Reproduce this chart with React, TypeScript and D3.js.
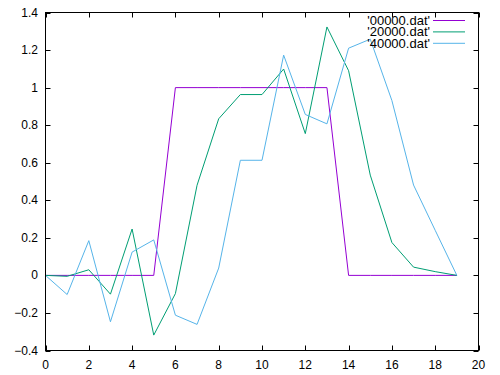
import React from "react";
import * as d3 from "d3";

const xs = d3.range(0, 20);
const s00000 = [0, 0, 0, 0, 0, 0, 1, 1, 1, 1, 1, 1, 1, 1, 0, 0, 0, 0, 0, 0];
const s20000 = [0, -0.005, 0.03, -0.1, 0.247, -0.318, -0.097, 0.48, 0.834, 0.963, 0.963, 1.099, 0.755, 1.323, 1.09, 0.534, 0.175, 0.044, 0.02, 0];
const s40000 = [0, -0.102, 0.185, -0.247, 0.124, 0.189, -0.212, -0.261, 0.039, 0.613, 0.613, 1.173, 0.857, 0.807, 1.21, 1.258, 0.931, 0.481, 0.24, 0];
const seriesNames = ["'00000.dat'", "'20000.dat'", "'40000.dat'"];
const seriesColors = ["#9400d3", "#009e73", "#56b4e9"];
const xTicks = d3.range(0, 21, 2);
const yTicks = [-0.4, -0.2, 0, 0.2, 0.4, 0.6, 0.8, 1, 1.2, 1.4];

export default function App() {
  const W = 500, H = 375;
  const L = 45.5, R = 478.5, T = 12.5, B = 350.5;
  const x = d3.scaleLinear().domain([0, 20]).range([L, R]);
  const y = d3.scaleLinear().domain([-0.4, 1.4]).range([B, T]);
  const line = d3.line<number>().x((_, i) => x(xs[i])).y((d) => y(d));
  const all = [s00000, s20000, s40000];
  const tick = 5;
  const font = "Liberation Sans, Arial, sans-serif";
  return (
    <svg width={W} height={H} style={{ position: "absolute", left: 0, top: 0, background: "#fff" }}>
      <rect x={0} y={0} width={W} height={H} fill="#fff" />
      <g stroke="#000" strokeWidth={1} fill="none">
        {xTicks.map((t) => (
          <g key={"xt" + t}>
            <line x1={Math.round(x(t)) + 0.5} x2={Math.round(x(t)) + 0.5} y1={B} y2={B - tick} />
            <line x1={Math.round(x(t)) + 0.5} x2={Math.round(x(t)) + 0.5} y1={T} y2={T + tick} />
          </g>
        ))}
        {yTicks.map((t) => (
          <g key={"yt" + t}>
            <line x1={L} x2={L + tick} y1={Math.round(y(t)) + 0.5} y2={Math.round(y(t)) + 0.5} />
            <line x1={R} x2={R - tick} y1={Math.round(y(t)) + 0.5} y2={Math.round(y(t)) + 0.5} />
          </g>
        ))}
      </g>
      <g fontFamily={font} fontSize={12} fill="#000">
        {xTicks.map((t) => (
          <text key={"xl" + t} x={x(t)} y={369} textAnchor="middle">{t}</text>
        ))}
        {yTicks.map((t) => (
          <text key={"yl" + t} x={38} y={y(t) + 4} textAnchor="end">{d3.format("")(+t.toFixed(1))}</text>
        ))}
      </g>
      <g fill="none" strokeWidth={1}>
        {all.map((s, i) => (
          <path key={"s" + i} d={line(s) || ""} stroke={seriesColors[i]} />
        ))}
      </g>
      <g fontFamily={font} fontSize={13}>
        {seriesNames.map((n, i) => {
          const ly = 20.5 + i * 11.4;
          return (
            <g key={"lg" + i}>
              <text x={430} y={ly + 4.5} textAnchor="end" fill="#000">{n}</text>
              <line x1={433} x2={465} y1={ly} y2={ly} stroke={seriesColors[i]} strokeWidth={1} />
            </g>
          );
        })}
      </g>
      <rect x={L} y={T} width={R - L} height={B - T} fill="none" stroke="#000" strokeWidth={1} />
    </svg>
  );
}
